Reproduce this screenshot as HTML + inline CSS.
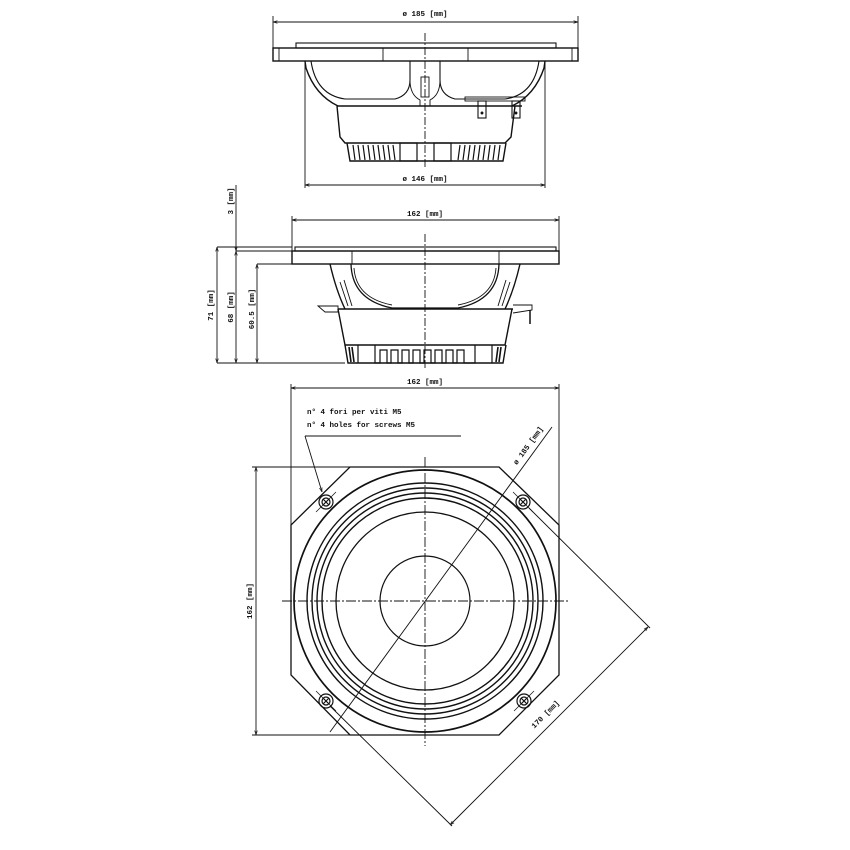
<!DOCTYPE html>
<html><head><meta charset="utf-8"><style>
html,body{margin:0;padding:0;background:#fff}
svg{display:block}
text{font-family:"Liberation Mono",monospace;font-size:7.5px;fill:#111;font-weight:bold}
</style></head><body>
<svg width="850" height="850" viewBox="0 0 850 850" xmlns="http://www.w3.org/2000/svg">
<defs>
<marker id="a" viewBox="0 0 10 10" refX="10" refY="5" markerWidth="5" markerHeight="5" orient="auto-start-reverse"><path d="M0,2 L10,5 L0,8" fill="none" stroke="#222" stroke-width="1.5"/></marker>
</defs>
<g fill="none" stroke="#111" stroke-width="0.9">
<!-- ===== TOP VIEW ===== -->
<line x1="273" y1="22" x2="578" y2="22" marker-start="url(#a)" marker-end="url(#a)"/>
<line x1="273" y1="16" x2="273" y2="48"/><line x1="578" y1="16" x2="578" y2="48"/>
<rect x="296" y="43" width="260" height="5" stroke-width="1.1"/>
<rect x="273" y="48" width="305" height="13" stroke-width="1.4"/>
<line x1="383" y1="48" x2="383" y2="61"/><line x1="468" y1="48" x2="468" y2="61"/>
<line x1="279" y1="48" x2="279" y2="61"/><line x1="572" y1="48" x2="572" y2="61"/>
<path d="M305,61 L306,68 Q315,95 338,106" stroke-width="1.4"/>
<path d="M311,61 Q316,95 345,99 L395,99 Q410,95 410,80 L410,61" stroke-width="1.1"/>
<path d="M545,61 L544,68 Q535,95 512,106" stroke-width="1.4"/>
<path d="M539,61 Q534,95 505,99 L455,99 Q440,95 440,80 L440,61" stroke-width="1.1"/>
<path d="M410,80 Q410,95 420,100 L420,106 M440,80 Q440,95 430,100 L430,106"/>
<rect x="421" y="77" width="8" height="20"/>
<line x1="337" y1="106" x2="522" y2="106" stroke-width="1.4"/>
<rect x="465" y="97" width="60" height="4"/>
<rect x="478" y="101" width="8" height="17" stroke-width="1.1"/><rect x="512" y="101" width="8" height="17" stroke-width="1.1"/>
<circle cx="482" cy="113" r="1" fill="#222"/><circle cx="516" cy="113" r="1" fill="#222"/>
<path d="M337,106 L340,137 L345,143 L505,143 L511,137 L515,106" stroke-width="1.4"/>
<path d="M347,143 L350,161 L503,161 L506,143" stroke-width="1.4"/>
<g stroke-width="1.2">
<path d="M353,145 l2,15 M358,145 l2,15 M363,145 l2,15 M368,145 l2,15 M373,145 l2,15 M378,145 l2,15 M383,145 l2,15 M388,145 l2,15 M393,145 l2,15"/>
<path d="M460,145 l-2,15 M465,145 l-2,15 M470,145 l-2,15 M475,145 l-2,15 M480,145 l-2,15 M485,145 l-2,15 M490,145 l-2,15 M495,145 l-2,15 M500,145 l-2,15"/>
<rect x="400" y="143" width="17" height="18"/><rect x="434" y="143" width="17" height="18"/>
</g>
<line x1="305" y1="61" x2="305" y2="188"/><line x1="545" y1="61" x2="545" y2="188"/>
<line x1="305" y1="185" x2="545" y2="185" marker-start="url(#a)" marker-end="url(#a)"/>
<line x1="425" y1="33" x2="425" y2="168" stroke-dasharray="8,2,2,2"/>

<!-- ===== SIDE VIEW ===== -->
<line x1="292" y1="220" x2="559" y2="220" marker-start="url(#a)" marker-end="url(#a)"/>
<line x1="292" y1="216" x2="292" y2="251"/><line x1="559" y1="216" x2="559" y2="251"/>
<rect x="295" y="247" width="261" height="4" stroke-width="1.1"/>
<rect x="292" y="251" width="267" height="13" stroke-width="1.4"/>
<line x1="352" y1="251" x2="352" y2="264"/><line x1="499" y1="251" x2="499" y2="264"/>
<path d="M330,264 Q336,290 345,309" stroke-width="1.4"/>
<path d="M520,264 Q514,290 505,309" stroke-width="1.4"/>
<path d="M351,264 Q352,300 392,308 L458,308 Q498,300 499,264" stroke-width="1.3"/>
<path d="M354,268 Q356,298 392,305 M496,268 Q494,298 458,305"/>
<path d="M340,282 L348,306 M344,280 L352,306 M510,282 L502,306 M506,280 L498,306"/>
<line x1="338" y1="309" x2="513" y2="309" stroke-width="1.4"/>
<path d="M318,306 L338,306 L338,312 L325,312 Z"/>
<path d="M513,305 L532,305 L532,310 L513,313"/><line x1="530" y1="310" x2="530" y2="324" stroke-width="1.5"/>
<path d="M338,309 L345,345 L505,345 L512,309" stroke-width="1.4"/>
<path d="M345,345 L348,363 L503,363 L506,345" stroke-width="1.4"/>
<g stroke-width="1.6"><path d="M349,347 l2,15 M352,347 l2,15 M501,347 l-2,15 M498,347 l-2,15"/></g>
<path stroke-width="1.2" d="M358,345 L358,363 M375,345 L375,363 L380,363 L380,350 L387,350 L387,363 L391,363 L391,350 L398,350 L398,363 L402,363 L402,350 L409,350 L409,363 L413,363 L413,350 L420,350 L420,363 L424,363 L424,350 L431,350 L431,363 L435,363 L435,350 L442,350 L442,363 L446,363 L446,350 L453,350 L453,363 L457,363 L457,350 L464,350 L464,363 L475,363 L475,345 M492,345 L492,363"/>
<line x1="425" y1="234" x2="425" y2="370" stroke-dasharray="8,2,2,2"/>
<line x1="236" y1="185" x2="236" y2="251" marker-end="url(#a)"/>
<line x1="217" y1="247" x2="292" y2="247"/>
<line x1="236" y1="251" x2="292" y2="251"/>
<line x1="257" y1="264" x2="292" y2="264"/>
<line x1="217" y1="363" x2="345" y2="363"/>
<line x1="217" y1="247" x2="217" y2="363" marker-start="url(#a)" marker-end="url(#a)"/>
<line x1="236" y1="251" x2="236" y2="363" marker-start="url(#a)" marker-end="url(#a)"/>
<line x1="257" y1="264" x2="257" y2="363" marker-start="url(#a)" marker-end="url(#a)"/>

<!-- ===== FRONT VIEW ===== -->
<line x1="291" y1="388" x2="559" y2="388" marker-start="url(#a)" marker-end="url(#a)"/>
<line x1="291" y1="384" x2="291" y2="525"/><line x1="559" y1="384" x2="559" y2="525"/>
<path d="M350,467 L499,467 L559,525 L559,675 L499,735 L350,735 L291,675 L291,525 Z" stroke-width="1.3"/>
<line x1="256" y1="467" x2="256" y2="735" marker-start="url(#a)" marker-end="url(#a)"/>
<line x1="252" y1="467" x2="350" y2="467"/><line x1="252" y1="735" x2="350" y2="735"/>
<circle cx="425" cy="601" r="131" stroke-width="1.7"/>
<circle cx="425" cy="601" r="118" stroke-width="1.4"/>
<circle cx="425" cy="601" r="113" stroke-width="1.4"/>
<circle cx="425" cy="601" r="108" stroke-width="1.4"/>
<circle cx="425" cy="601" r="103" stroke-width="1.4"/>
<circle cx="425" cy="601" r="89" stroke-width="1.3"/>
<circle cx="425" cy="601" r="45" stroke-width="1.2"/>
<line x1="282" y1="601" x2="570" y2="601" stroke-dasharray="10,2,2,2"/>
<line x1="425" y1="457" x2="425" y2="746" stroke-dasharray="10,2,2,2"/>
<g stroke-width="1.2">
<g transform="translate(326,502)"><circle r="7"/><circle r="4"/><path d="M-3,-3 L3,3 M-3,3 L3,-3"/><path d="M-10,10 L10,-10" stroke-width="0.7"/></g>
<g transform="translate(523,502)"><circle r="7"/><circle r="4"/><path d="M-3,-3 L3,3 M-3,3 L3,-3"/><path d="M-10,-10 L10,10" stroke-width="0.7"/></g>
<g transform="translate(326,701)"><circle r="7"/><circle r="4"/><path d="M-3,-3 L3,3 M-3,3 L3,-3"/><path d="M-10,-10 L10,10" stroke-width="0.7"/></g>
<g transform="translate(524,701)"><circle r="7"/><circle r="4"/><path d="M-3,-3 L3,3 M-3,3 L3,-3"/><path d="M-10,10 L10,-10" stroke-width="0.7"/></g>
</g>
<line x1="305" y1="436" x2="461" y2="436"/>
<line x1="305" y1="436" x2="322" y2="492" marker-end="url(#a)"/>
<line x1="330" y1="732" x2="552" y2="427"/>
<line x1="529" y1="508" x2="650" y2="628"/>
<line x1="330" y1="706" x2="452" y2="826"/>
<line x1="648" y1="627" x2="450" y2="825" marker-start="url(#a)" marker-end="url(#a)"/>
</g>
<text x="425" y="16" text-anchor="middle">ø 185 [mm]</text>
<text x="425" y="181" text-anchor="middle">ø 146 [mm]</text>
<text x="425" y="216" text-anchor="middle">162 [mm]</text>
<text x="425" y="384" text-anchor="middle">162 [mm]</text>
<text transform="translate(233,201) rotate(-90)" text-anchor="middle">3 [mm]</text>
<text transform="translate(213,305) rotate(-90)" text-anchor="middle">71 [mm]</text>
<text transform="translate(233,307) rotate(-90)" text-anchor="middle">68 [mm]</text>
<text transform="translate(254,309) rotate(-90)" text-anchor="middle">60.5 [mm]</text>
<text transform="translate(252,601) rotate(-90)" text-anchor="middle">162 [mm]</text>
<text x="307" y="414">n° 4 fori per viti M5</text>
<text x="307" y="427">n° 4 holes for screws M5</text>
<text transform="translate(530,447) rotate(-54)" text-anchor="middle">ø 185 [mm]</text>
<text transform="translate(547,716) rotate(-45)" text-anchor="middle">170 [mm]</text>
</svg>
</body></html>
